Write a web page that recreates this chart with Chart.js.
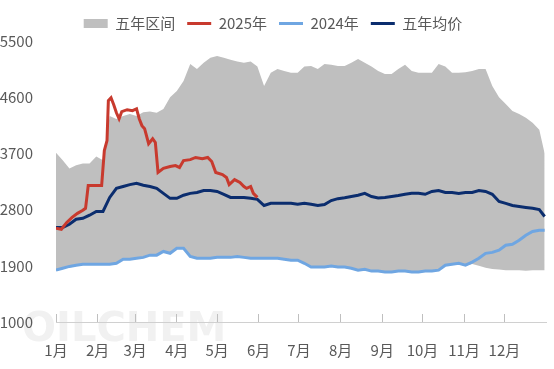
<!DOCTYPE html>
<html>
<head>
<meta charset="utf-8">
<title>五年区间价格走势</title>
<script src="https://cdn.jsdelivr.net/npm/chart.js@4"></script>
<style>
  html, body { margin: 0; padding: 0; background: #fff; }
  .wrap { width: 554px; height: 369px; position: relative; }
</style>
</head>
<body>
<div class="wrap"><canvas id="c"></canvas></div>
<script>
// --- data (x = day of year, 0 = 1月1日) ---
const days = [0,5,10,15,20,25,30,35,40,45,50,55,60,65,70,75,80,85,90,95,100,105,110,115,120,125,130,135,140,145,150,155,160,165,170,175,180,185,190,195,200,205,210,215,220,225,230,235,240,245,250,255,260,265,270,275,280,285,290,295,300,305,310,315,320,325,330,335,340,345,350,355,360,364];

const rangeHigh = [3710,3590,3460,3510,3540,3540,3650,3590,4300,4250,4300,4330,4300,4360,4370,4350,4410,4600,4700,4860,5130,5050,5150,5230,5260,5230,5200,5170,5150,5170,5090,4780,4990,5050,5020,4990,4990,5090,5100,5050,5130,5120,5100,5100,5150,5210,5150,5090,5020,4970,4970,5050,5120,5020,4990,4990,4990,5130,5090,4990,4990,5000,5020,5050,5050,4780,4600,4490,4380,4330,4270,4190,4080,3700];

const rangeLow = [1820,1850,1880,1900,1915,1915,1915,1915,1915,1930,1995,1995,2010,2025,2060,2060,2120,2090,2170,2170,2040,2010,2010,2010,2025,2025,2025,2040,2025,2010,2010,2010,2010,2010,1995,1980,1980,1930,1870,1870,1870,1885,1870,1870,1850,1820,1835,1805,1805,1790,1790,1805,1805,1790,1790,1805,1805,1820,1900,1915,1930,1900,1930,1900,1870,1850,1840,1830,1830,1830,1820,1830,1830,1830];

const avg5y = [2515,2515,2565,2645,2660,2710,2770,2770,2995,3140,3170,3200,3220,3190,3170,3140,3060,2980,2980,3030,3060,3075,3105,3105,3090,3045,2995,2995,2995,2980,2965,2865,2900,2900,2900,2900,2885,2900,2885,2865,2880,2945,2975,2990,3010,3030,3060,3010,2985,2995,3010,3025,3045,3060,3060,3045,3090,3105,3075,3075,3060,3075,3075,3105,3090,3045,2930,2900,2865,2850,2835,2820,2800,2690];

const y2024 = [1830,1860,1890,1910,1925,1925,1925,1925,1925,1940,2005,2005,2020,2035,2070,2070,2130,2100,2180,2180,2050,2020,2020,2020,2035,2035,2035,2050,2035,2020,2020,2020,2020,2020,2005,1990,1990,1940,1880,1880,1880,1895,1880,1880,1860,1830,1845,1815,1815,1800,1800,1815,1815,1800,1800,1815,1815,1830,1910,1925,1940,1910,1960,2020,2100,2115,2150,2230,2245,2310,2390,2450,2470,2470];

const days2025 = [0,4,8,12,16,20,22,23,24,34,36,38,39,41,43,45,47,49,53,57,60,62,64,66,69,72,74,76,80,85,89,92,95,100,104,109,113,116,119,124,127,129,133,137,140,142,145,147,150];
const y2025 = [2500,2485,2595,2675,2740,2790,2820,3000,3185,3185,3745,3905,4545,4590,4480,4350,4255,4370,4400,4385,4415,4255,4145,4095,3855,3935,3875,3395,3460,3490,3505,3475,3585,3600,3635,3615,3635,3570,3395,3360,3315,3200,3280,3235,3170,3140,3170,3060,2995];

const monthStarts = [0,31,59,90,120,151,181,212,243,273,304,334];
const monthLabels = ['1月','2月','3月','4月','5月','6月','7月','8月','9月','10月','11月','12月'];

const seriesNames = ['五年区间', '2025年', '2024年', '五年均价'];
const yMin = 1000, yMax = 5500, yStep = 900;

const pts = (xs, ys) => xs.map((x, i) => ({ x: x, y: ys[i] }));

const FONT = '"Noto Sans CJK SC", "Noto Sans", sans-serif';
const TEXT = '#595959';

// faint logo watermark behind the plot
const watermark = {
  id: 'watermark',
  beforeDraw(chart) {
    const ctx = chart.ctx;
    ctx.save();
    ctx.font = 'bold 40px "DejaVu Sans", sans-serif';
    ctx.fillStyle = '#F1F1F1';
    ctx.textBaseline = 'alphabetic';
    ctx.fillText('OILCHEM', 22, 341);
    ctx.restore();
  }
};

new Chart(document.getElementById('c'), {
  type: 'line',
  data: {
    datasets: [
      { label: seriesNames[0], data: pts(days, rangeHigh), fill: '+1', backgroundColor: '#BFBFBF',
        borderColor: '#BFBFBF', borderWidth: 0, pointRadius: 0, pointStyle: 'rect' },
      { label: '_low', data: pts(days, rangeLow), fill: false, borderWidth: 0, borderColor: '#BFBFBF', pointRadius: 0 },
      { label: seriesNames[1], data: pts(days2025, y2025), borderColor: '#C83A2E', backgroundColor: '#C83A2E',
        borderWidth: 3, pointRadius: 0, fill: false, pointStyle: 'line' },
      { label: seriesNames[2], data: pts(days, y2024), borderColor: '#6FA6E2', backgroundColor: '#6FA6E2',
        borderWidth: 3, pointRadius: 0, fill: false, pointStyle: 'line' },
      { label: seriesNames[3], data: pts(days, avg5y), borderColor: '#0B2D6E', backgroundColor: '#0B2D6E',
        borderWidth: 3, pointRadius: 0, fill: false, pointStyle: 'line' }
    ]
  },
  options: {
    responsive: true,
    maintainAspectRatio: false,
    animation: false,
    devicePixelRatio: 1,
    layout: { padding: { top: 4, right: 8, bottom: 0, left: 0 } },
    plugins: {
      filler: { drawTime: 'beforeDatasetsDraw' },
      tooltip: { enabled: false },
      legend: {
        position: 'top',
        labels: {
          filter: item => item.text !== '_low',
          usePointStyle: true,
          pointStyleWidth: 24,
          boxHeight: 9,
          padding: 12,
          color: TEXT,
          font: { family: FONT, size: 15 }
        }
      }
    },
    scales: {
      x: {
        type: 'linear',
        min: 0,
        max: 365,
        afterBuildTicks: s => { s.ticks = monthStarts.map(v => ({ value: v })); },
        afterFit: s => { s.height = 47; },
        ticks: {
          autoSkip: false,
          maxRotation: 0,
          padding: 27,
          color: TEXT,
          font: { family: FONT, size: 15 },
          callback: v => monthLabels[monthStarts.indexOf(v)]
        },
        grid: { display: true, drawOnChartArea: false, drawTicks: true, tickLength: -8, color: '#BFBFBF' },
        border: { display: true, color: '#D0D0D0', width: 1 }
      },
      y: {
        min: yMin,
        max: yMax,
        afterFit: s => { s.width = 56; },
        ticks: { stepSize: yStep, padding: 15, color: TEXT, font: { family: FONT, size: 15 },
          callback: v => String(v) },
        grid: { display: false },
        border: { display: false }
      }
    }
  },
  plugins: [watermark]
});
</script>
</body>
</html>
